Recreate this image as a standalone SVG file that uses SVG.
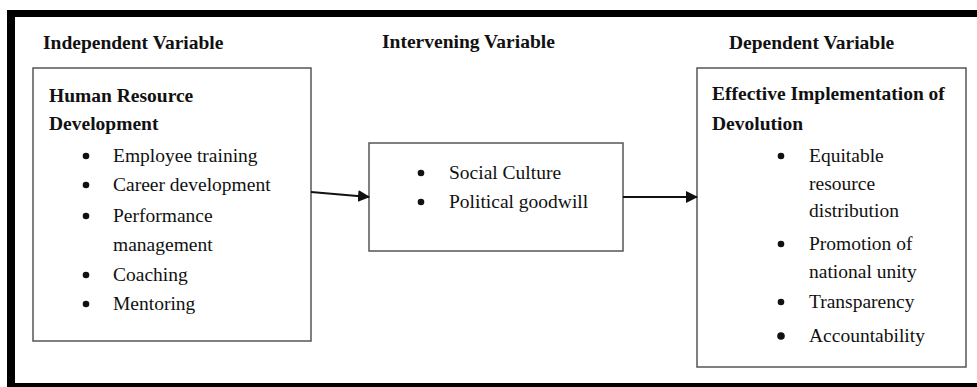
<svg xmlns="http://www.w3.org/2000/svg" width="977" height="387" viewBox="0 0 977 387">
<style>
.t{font-family:"Liberation Serif","Times New Roman",serif;font-size:19.5px;fill:#111}
.b{font-weight:bold}
.box{fill:#fff;stroke:#555;stroke-width:1.5}
.dot{fill:#111}
.con{stroke:#111;stroke-width:2;fill:none}
</style>
<defs>
<marker id="ah" markerWidth="12" markerHeight="12" refX="11" refY="6" orient="auto" markerUnits="userSpaceOnUse">
<path d="M0,0 L12,6 L0,12 Z" fill="#111"/>
</marker>
</defs>
<rect width="977" height="387" fill="#fff"/>
<g id="frame" fill="#000">
<rect x="7" y="10" width="970" height="7"/>
<rect x="7" y="10" width="8" height="377"/>
<rect x="7" y="383" width="970" height="4"/>
</g>
<g id="headers">
<text class="t b" x="43" y="49">Independent Variable</text>
<text class="t b" x="382" y="48">Intervening Variable</text>
<text class="t b" x="729" y="49">Dependent Variable</text>
</g>
<g id="node-independent">
<rect class="box" x="33" y="68" width="278" height="273"/>
<text class="t b" x="49" y="102">Human Resource</text>
<text class="t b" x="49" y="130">Development</text>
<circle class="dot" cx="86" cy="156" r="3.3"/>
<text class="t" x="113" y="162">Employee training</text>
<circle class="dot" cx="86" cy="185" r="3.3"/>
<text class="t" x="113" y="191">Career development</text>
<circle class="dot" cx="86" cy="216" r="3.3"/>
<text class="t" x="113" y="222">Performance</text>
<text class="t" x="113" y="251">management</text>
<circle class="dot" cx="86" cy="275" r="3.3"/>
<text class="t" x="113" y="281">Coaching</text>
<circle class="dot" cx="86" cy="304" r="3.3"/>
<text class="t" x="113" y="310">Mentoring</text>
</g>
<g id="node-intervening">
<rect class="box" x="369" y="143" width="254" height="108"/>
<circle class="dot" cx="421" cy="173" r="3.3"/>
<text class="t" x="449" y="179">Social Culture</text>
<circle class="dot" cx="421" cy="202" r="3.3"/>
<text class="t" x="449" y="208">Political goodwill</text>
</g>
<g id="node-dependent">
<rect class="box" x="697" y="68" width="269" height="299"/>
<text class="t b" x="712" y="100">Effective Implementation of</text>
<text class="t b" x="712" y="130">Devolution</text>
<circle class="dot" cx="781" cy="156" r="3.3"/>
<text class="t" x="809" y="162">Equitable</text>
<text class="t" x="809" y="190">resource</text>
<text class="t" x="809" y="217">distribution</text>
<circle class="dot" cx="781" cy="244" r="3.3"/>
<text class="t" x="809" y="250">Promotion of</text>
<text class="t" x="809" y="278">national unity</text>
<circle class="dot" cx="781" cy="302" r="3.3"/>
<text class="t" x="809" y="308">Transparency</text>
<circle class="dot" cx="781" cy="336" r="3.8"/>
<text class="t" x="809" y="342">Accountability</text>
</g>
<g id="connectors">
<line class="con" x1="311" y1="192" x2="369" y2="197" marker-end="url(#ah)"/>
<line class="con" x1="623" y1="197" x2="697" y2="197" marker-end="url(#ah)"/>
</g>
</svg>
